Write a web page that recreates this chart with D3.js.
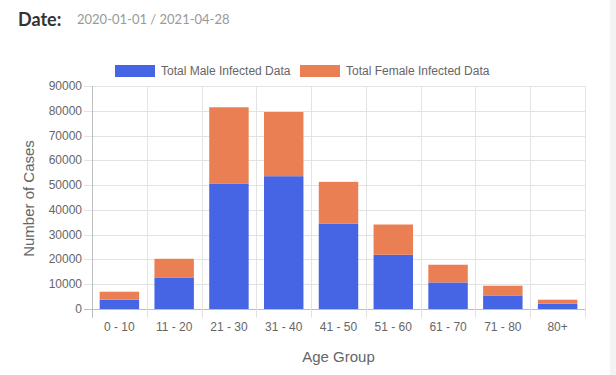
<!DOCTYPE html>
<html>
<head>
<meta charset="utf-8">
<script src="https://cdnjs.cloudflare.com/ajax/libs/d3/7.8.5/d3.min.js"></script>
<style>
  body { margin: 0; background: #fff; font-family: "Liberation Sans", Arial, sans-serif; }
  #chart { position: relative; width: 616px; height: 375px; }
</style>
</head>
<body>
<div id="chart"></div>
<script>
// chart values
const ageGroups = ["0 - 10", "11 - 20", "21 - 30", "31 - 40", "41 - 50", "51 - 60", "61 - 70", "71 - 80", "80+"];
const maleCases = [3750, 12740, 50500, 53600, 34380, 21890, 10720, 5480, 2140];
const femaleCases = [3220, 7530, 30920, 25920, 16930, 12210, 7140, 3910, 1610];
const yTicks = [0, 10000, 20000, 30000, 40000, 50000, 60000, 70000, 80000, 90000];
const seriesNames = ["Total Male Infected Data", "Total Female Infected Data"];
const seriesColors = ["#4565e4", "#ea7f53"];

const width = 616, height = 375;
const margin = { top: 86, right: 31, bottom: 66, left: 92 };

const svg = d3.select("#chart").append("svg")
    .attr("width", width)
    .attr("height", height);

// grey strip at the right edge
svg.append("rect")
    .attr("x", 610).attr("y", 0)
    .attr("width", 6).attr("height", height)
    .attr("fill", "#f3f3f3");

// header
svg.append("text")
    .attr("x", 18).attr("y", 26)
    .attr("font-family", "Lato, 'Noto Sans', sans-serif")
    .attr("font-weight", "bold")
    .attr("font-size", 18)
    .attr("fill", "#333")
    .text("Date:");
svg.append("text")
    .attr("x", 77).attr("y", 24)
    .attr("font-family", "Lato, 'Noto Sans', sans-serif")
    .attr("font-size", 13)
    .attr("fill", "#999")
    .text("2020-01-01 / 2021-04-28");

const x = d3.scaleBand()
    .domain(ageGroups)
    .range([margin.left, width - margin.right])
    .paddingInner(0)
    .paddingOuter(0);

const y = d3.scaleLinear()
    .domain([0, 90000])
    .range([height - margin.bottom, margin.top]);

const stackData = ageGroups.map((g, i) => ({ group: g, male: maleCases[i], female: femaleCases[i] }));
const series = d3.stack().keys(["male", "female"])(stackData);

// grid
const grid = svg.append("g");
grid.selectAll(".hgrid")
    .data(yTicks)
    .enter().append("line")
    .attr("x1", margin.left - 8)
    .attr("x2", width - margin.right)
    .attr("y1", d => Math.round(y(d)) + 0.5)
    .attr("y2", d => Math.round(y(d)) + 0.5)
    .attr("stroke", d => d === 0 ? "#bdbdbd" : "#e3e3e3");

const vlines = ageGroups.map(g => x(g)).concat([width - margin.right]);
grid.selectAll(".vgrid")
    .data(vlines)
    .enter().append("line")
    .attr("x1", d => Math.round(d) + 0.5)
    .attr("x2", d => Math.round(d) + 0.5)
    .attr("y1", margin.top)
    .attr("y2", height - margin.bottom + 9)
    .attr("stroke", (d, i) => i === 0 ? "#bdbdbd" : "#e3e3e3");

// bars
const bw = x.bandwidth() * 0.72;
svg.append("g").selectAll("g")
    .data(series)
    .enter().append("g")
    .attr("fill", (d, i) => seriesColors[i])
    .selectAll("rect")
    .data(d => d)
    .enter().append("rect")
    .attr("x", d => x(d.data.group) + (x.bandwidth() - bw) / 2)
    .attr("width", bw)
    .attr("y", d => y(d[1]))
    .attr("height", d => y(d[0]) - y(d[1]));

// y tick labels
svg.append("g").selectAll("text")
    .data(yTicks)
    .enter().append("text")
    .attr("x", margin.left - 10)
    .attr("y", d => y(d) + 4)
    .attr("text-anchor", "end")
    .attr("font-size", 12)
    .attr("fill", "#666")
    .text(d => d);

// x tick labels
svg.append("g").selectAll("text")
    .data(ageGroups)
    .enter().append("text")
    .attr("x", d => x(d) + x.bandwidth() / 2)
    .attr("y", height - margin.bottom + 22)
    .attr("text-anchor", "middle")
    .attr("font-size", 12)
    .attr("fill", "#666")
    .text(d => d);

// axis titles
svg.append("text")
    .attr("transform", `translate(34,${(margin.top + height - margin.bottom) / 2 + 1}) rotate(-90)`)
    .attr("text-anchor", "middle")
    .attr("font-size", 15)
    .attr("fill", "#666")
    .text("Number of Cases");
svg.append("text")
    .attr("x", (margin.left + width - margin.right) / 2)
    .attr("y", 362)
    .attr("text-anchor", "middle")
    .attr("font-size", 15)
    .attr("fill", "#666")
    .text("Age Group");

// legend
const legendX = [115, 300];
const legend = svg.append("g").selectAll("g")
    .data(seriesNames)
    .enter().append("g")
    .attr("transform", (d, i) => `translate(${legendX[i]},65)`);
legend.append("rect")
    .attr("width", 40).attr("height", 12)
    .attr("fill", (d, i) => seriesColors[i]);
legend.append("text")
    .attr("x", 46).attr("y", 10)
    .attr("font-size", 12)
    .attr("fill", "#666")
    .text(d => d);
</script>
</body>
</html>
